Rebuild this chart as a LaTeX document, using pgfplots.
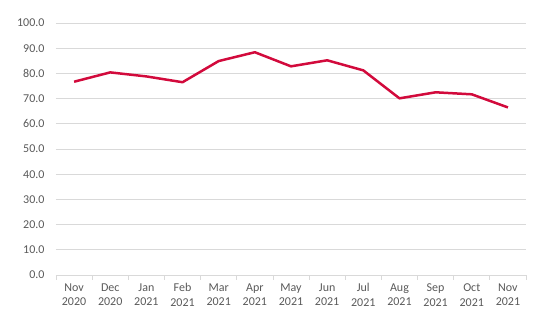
\documentclass[border=0pt]{standalone}
\usepackage{pgfplots}
\pgfplotsset{compat=1.18}
\usepackage{fontspec}
\setmainfont{Carlito}
\definecolor{linered}{HTML}{D20A3C}
\definecolor{gridgray}{HTML}{D9D9D9}
\definecolor{textgray}{HTML}{595959}
\begin{document}
\begin{tikzpicture}
\begin{axis}[
  name=ax,
  scale only axis,
  width=470bp, height=252bp,
  xmin=-0.5, xmax=12.5,
  ymin=0, ymax=100,
  ytick={0,10,...,100},
  xtick={0,...,12},
  xticklabels={Nov\\2020,Dec\\2020,Jan\\2021,Feb\\2021,Mar\\2021,Apr\\2021,May\\2021,Jun\\2021,Jul\\2021,Aug\\2021,Sep\\2021,Oct\\2021,Nov\\2021},
  minor xtick={-0.5,0.5,...,12.5},
  major tick length=0pt,
  minor tick length=4.5bp,
  tick align=outside,
  axis lines*=left,
  x axis line style={draw=gridgray, line width=0.75bp},
  y axis line style={draw=none},
  minor x tick style={draw=gridgray, line width=0.75bp},
  ymajorgrids,
  grid style={draw=gridgray, line width=0.75bp},
  tick label style={font=\fontsize{12bp}{14.7bp}\selectfont, text=textgray},
  xticklabel style={align=center, yshift=-5bp},
  yticklabel style={xshift=-8bp},
  /pgf/number format/.cd, fixed, fixed zerofill, precision=1, assume math mode=true,
]
\addplot[color=linered, line width=2.5bp, line join=round, mark=none] coordinates {
  (0,76.7) (1,80.4) (2,78.8) (3,76.5) (4,84.9) (5,88.4) (6,82.8)
  (7,85.2) (8,81.2) (9,70.1) (10,72.5) (11,71.7) (12,66.5)
};
\end{axis}
\pgfresetboundingbox
\path ([shift={(-56bp,-55bp)}]ax.south west) rectangle ([shift={(24bp,23bp)}]ax.north east);
\end{tikzpicture}
\end{document}
